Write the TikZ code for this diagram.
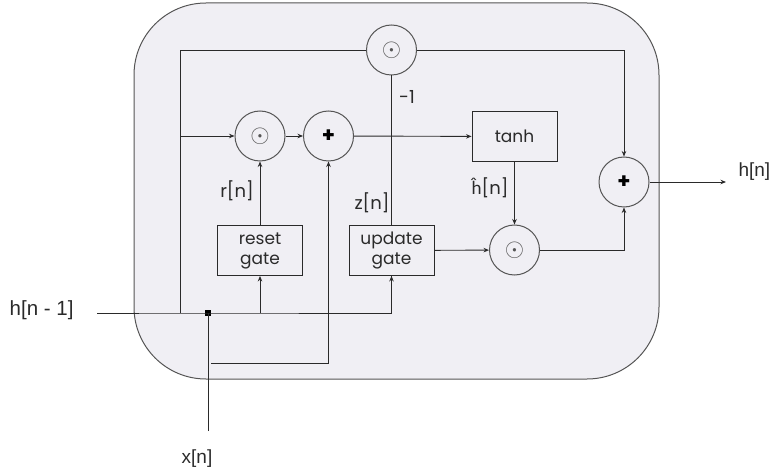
\documentclass[tikz,border=0pt]{standalone}
\usepackage{fontspec}
\setmainfont{Poppins}
\newfontfamily\labelfont{Liberation Sans}
\newfontfamily\hatfont{Lato}
\definecolor{CellFill}{HTML}{F0EFF4}
\definecolor{LineGray}{HTML}{2A2A2A}
\definecolor{EdgeGray}{HTML}{555555}
\usepackage{tikz}
\usetikzlibrary{arrows.meta,calc}

\tikzset{
  wire/.style={draw=LineGray, line width=0.9pt},
  arr/.style={wire, -{Stealth[length=5.5pt,width=4.5pt]}},
  opcirc/.style={circle, draw=EdgeGray, line width=1pt, minimum size=50pt, inner sep=0pt},
  dotop/.style={opcirc, text=EdgeGray, font=\fontsize{23}{23}\selectfont},
  plusop/.style={opcirc, font=\bfseries\fontsize{21}{21}\selectfont},
  gatebox/.style={rectangle, draw=LineGray, line width=0.9pt, minimum width=85pt, minimum height=50pt,
    align=center, inner sep=0pt, text=LineGray, font=\fontsize{17}{20}\selectfont},
  sig/.style={font=\fontsize{18}{20}\selectfont, text=LineGray},
  ext/.style={font=\labelfont\fontsize{19}{21}\selectfont, text=LineGray}
}

\begin{document}
\begin{tikzpicture}[x=1pt, y=-1pt]
    \useasboundingbox (0,0) rectangle (772,476);
    % cell background
    \fill[CellFill, rounded corners=72pt] (134,3) rectangle (659,379);
    \draw[EdgeGray, line width=1pt, rounded corners=72pt] (134,3) rectangle (659,379);

    % operators
    \node[dotop] (mulTop) at (391.5,50) {$\odot$};
    \node[dotop] (mulReset) at (260,136) {$\odot$};
    \node[plusop] (addCand) at (328.5,136) {+};
    \node[gatebox] (tanhBox) at (514.5,136.5) {tanh};
    \node[plusop] (addOut) at (624,182) {+};
    \node[gatebox] (resetGate) at (260,250.5) {reset\\gate};
    \node[gatebox] (updateGate) at (391.5,250.5) {update\\gate};
    \node[dotop] (mulUpd) at (514.5,250) {$\odot$};

    % inputs / outputs
    \coordinate (hIn) at (97,313);
    \coordinate (hSplit) at (180,313);
    \coordinate (xJoin) at (208,313);
    \coordinate (xIn) at (208,431);
    \coordinate (xLoop) at (211,363);
    \coordinate (hOut) at (726,182);
    \fill[black] ($(xJoin)+(-3,-3)$) rectangle ($(xJoin)+(3,3)$);

    \node[ext, anchor=east, font=\labelfont\fontsize{20.5}{22}\selectfont] (hPrevLabel) at (77,310) {h[n - 1]};
    \node[ext] (xLabel) at (197,459) {x[n]};
    \node[ext, anchor=west] (hNextLabel) at (735,172) {h[n]};

    % connections
    \draw[wire] (hIn) -- (hSplit) -- (xJoin) -| (updateGate.south);
    \draw[arr] ($(updateGate.south)+(0,36)$) -- (updateGate.south);
    \draw[arr] (resetGate.south |- hSplit) -- (resetGate.south);
    \draw[wire] (hSplit) |- (mulTop.west);
    \draw[arr] (mulTop.east) -| (addOut.north);
    \draw[arr] (hSplit |- mulReset) -- (mulReset.west);
    \draw[arr] (mulReset) -- (addCand);
    \draw[arr] (resetGate.north) -- (mulReset.south);
    \draw[arr] (addCand) -- (tanhBox);
    \draw[wire] (updateGate.north) -- (mulTop.south);
    \draw[arr] (tanhBox) -- (mulUpd);
    \draw[arr] (updateGate) -- (mulUpd);
    \draw[arr] (mulUpd.east) -| (addOut.south);
    \draw[wire] (xIn) -- (xJoin);
    \draw[arr] (xLoop) -| (addCand.south);
    \draw[arr] (addOut.east) -- (hOut);

    % signal labels
    \node[sig] (minusOne) at (407,97) {-1};
    \node[sig] (rLabel) at (237,191) {r[n]};
    \node[sig] (zLabel) at (372,203) {z[n]};
    \node[sig] (hHatLabel) at (490,188) {{\hatfont ĥ}[n]};
\end{tikzpicture}
\end{document}
